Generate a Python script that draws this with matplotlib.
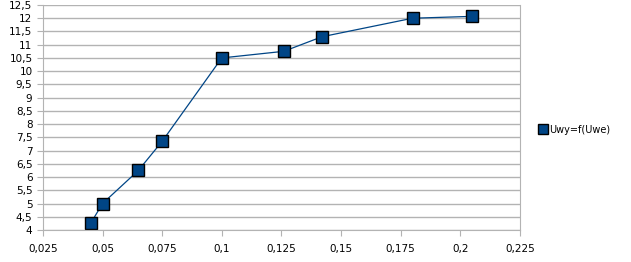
import matplotlib
matplotlib.use("Agg")
import matplotlib.pyplot as plt
from matplotlib.ticker import FuncFormatter, MultipleLocator

x_vals = [0.045, 0.05, 0.065, 0.075, 0.1, 0.126, 0.142, 0.18, 0.205]
y_vals = [4.25, 5.0, 6.25, 7.35, 10.5, 10.75, 11.3, 12.0, 12.07]
series_name = "Uwy=f(Uwe)"

fig = plt.figure(figsize=(6.31, 2.62), dpi=100)
ax = fig.add_axes([0.068, 0.122, 0.756, 0.859])
color = "#004586"
ax.plot(x_vals, y_vals, color=color, lw=0.9, marker="s", markersize=8,
        markerfacecolor=color, markeredgecolor="black", markeredgewidth=1.0,
        label=series_name)
ax.set_xlim(0.025, 0.225)
ax.set_ylim(4, 12.5)
ax.xaxis.set_major_locator(MultipleLocator(0.025))
ax.yaxis.set_major_locator(MultipleLocator(0.5))

def fmt(v, pos):
    s = ("%.3f" % v).rstrip("0").rstrip(".")
    return s.replace(".", ",")

ax.xaxis.set_major_formatter(FuncFormatter(fmt))
ax.yaxis.set_major_formatter(FuncFormatter(fmt))
ax.grid(axis="y", color="#b3b3b3", lw=1)
ax.set_axisbelow(True)
for s in ax.spines.values():
    s.set_color("#b3b3b3")
ax.spines["top"].set_visible(False)
ax.tick_params(colors="#b3b3b3", labelcolor="black", labelsize=7.5, length=4)
ax.tick_params(axis="x", pad=6)

fig.legend(loc="center left", bbox_to_anchor=(0.840, 0.505), frameon=False,
           fontsize=7, handlelength=0.8, handletextpad=0.3, numpoints=1,
           markerscale=0.85)
leg = fig.legends[0]
for h in leg.legend_handles:
    h.set_linestyle("none")
fig.savefig("out.png", dpi=100)
